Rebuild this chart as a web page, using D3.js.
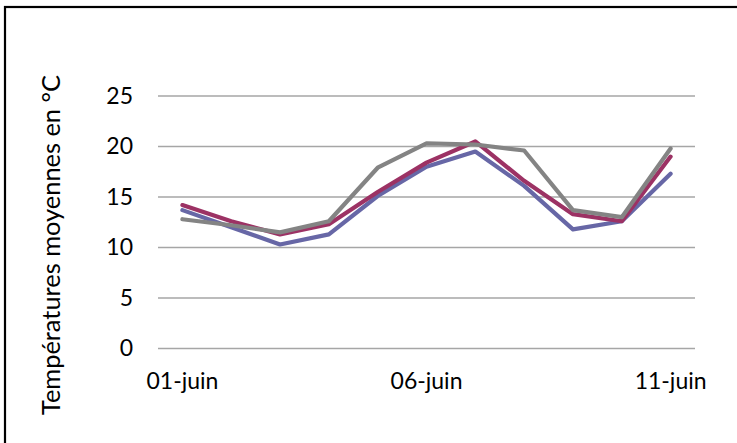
<!DOCTYPE html>
<html><head><meta charset="utf-8">
<script src="https://cdn.jsdelivr.net/npm/d3@7"></script>
<style>body{margin:0;background:#fff}svg{display:block}</style>
</head><body>
<script>
const categories = ["01-juin","02-juin","03-juin","04-juin","05-juin","06-juin","07-juin","08-juin","09-juin","10-juin","11-juin"];
const tickLabels = ["01-juin","06-juin","11-juin"];
const yTicks = [0,5,10,15,20,25];
const serieA = [13.7,12.0,10.3,11.3,15.1,18.0,19.5,16.1,11.8,12.6,17.3];
const serieB = [14.2,12.6,11.3,12.3,15.5,18.4,20.5,16.6,13.3,12.6,19.0];
const serieC = [12.8,12.2,11.5,12.6,17.9,20.3,20.2,19.6,13.7,13.0,19.8];
const series = [
  {values: serieA, color: "#6767a6"},
  {values: serieB, color: "#9c3264"},
  {values: serieC, color: "#848484"}
];

(function(){
const W = 737, H = 443;
const pLeft = 158, pRight = 695, pTop = 96, pBottom = 348.5;
const svg = d3.select("body").append("svg").attr("width", W).attr("height", H);

svg.append("rect").attr("x",5).attr("y",7).attr("width",760).attr("height",460)
  .attr("fill","none").attr("stroke","#000").attr("stroke-width",2.2);

const x = d3.scaleBand().domain(categories).range([pLeft, pRight]);
const y = d3.scaleLinear().domain([0,25]).range([pBottom, pTop]);

const font = "Lato, 'Open Sans', sans-serif";

svg.append("g").selectAll("line").data(yTicks).join("line")
  .attr("x1", pLeft).attr("x2", pRight)
  .attr("y1", d => y(d)).attr("y2", d => y(d))
  .attr("stroke", "#a6a6a6").attr("stroke-width", 1.3);

const yAxis = d3.axisLeft(y).tickValues(yTicks).tickSize(0).tickPadding(0);
const gy = svg.append("g").attr("transform", `translate(${pLeft-25},0)`).call(yAxis);
gy.select(".domain").remove();
gy.selectAll("text").attr("font-family", font).attr("font-size", 23).attr("fill", "#000");

const xAxis = d3.axisBottom(x).tickValues(tickLabels).tickSize(0).tickPadding(0);
const gx = svg.append("g").attr("transform", `translate(0,${pBottom+24})`).call(xAxis);
gx.select(".domain").remove();
gx.selectAll("text").attr("font-family", font).attr("font-size", 23).attr("fill", "#000");

svg.append("text")
  .attr("transform", `translate(60,245) rotate(-90)`)
  .attr("text-anchor", "middle")
  .attr("font-family", font).attr("font-size", 25.4).attr("fill", "#000")
  .text("Températures moyennes en °C");

const line = d3.line().x((d,i) => x(categories[i]) + x.bandwidth()/2).y(d => y(d));
svg.append("g").selectAll("path").data(series).join("path")
  .attr("d", d => line(d.values))
  .attr("fill", "none").attr("stroke", d => d.color)
  .attr("stroke-width", 4.2).attr("stroke-linejoin", "round").attr("stroke-linecap", "round");
})();
</script>
</body></html>
